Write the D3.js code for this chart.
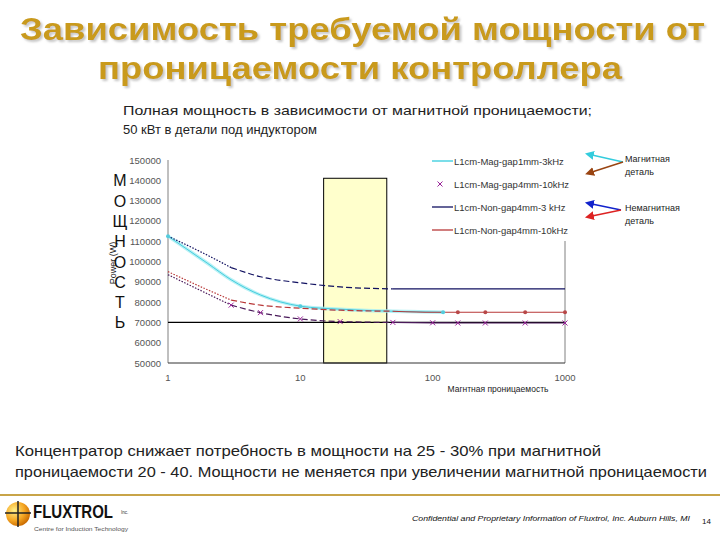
<!DOCTYPE html>
<html><head><meta charset="utf-8">
<script src="https://cdn.jsdelivr.net/npm/d3@7/dist/d3.min.js"></script>
<style>
html,body{margin:0;padding:0;background:#fff;}
svg{display:block;font-family:"Liberation Sans",Arial,sans-serif;}
</style></head>
<body>
<svg id="c" width="720" height="540"></svg>
<script>
// ---- data ----
const yTicks = [50000,60000,70000,80000,90000,100000,110000,120000,130000,140000,150000];
const xTicks = [1,10,100,1000];
const verticalLetters = ["М","О","Щ","Н","О","С","Т","Ь"];
const letterRows = [140000,130000,120000,110000,100000,90000,80000,70000];

const seriesNames = ["L1cm-Mag-gap1mm-3kHz","L1cm-Mag-gap4mm-10kHz","L1cm-Non-gap4mm-3 kHz","L1cm-Non-gap4mm-10kHz"];

const muCyan  = [1,2,3,5,10,20,50,120];
const valCyan = [112500,99000,91000,83500,78000,76500,75500,75000];

const muPurple  = [1,2,3,5,10,20,50,100,155,250,500,1000];
const valPurple = [93500,84000,78500,74800,71700,70400,70000,69800,69700,69700,69700,69700];

const muNavy  = [1,2,3,5,10,20,50,100,200,500,1000];
const valNavy = [112500,103000,97000,92500,89500,87500,86500,86500,86500,86500,86500];

const muRed  = [1,2,3,5,10,20,50,100,155,250,500,1000];
const valRed = [95000,86000,81000,78500,77000,76000,75500,75000,75000,75000,75000,75000];

const bandMu = [15,45];      // highlighted permeability range
const bandTop = 141000;
const refLine = 70000;

const title1 = "Зависимость требуемой мощности от";
const title2 = "проницаемости контроллера";
const sub1 = "Полная мощность в зависимости от магнитной проницаемости;";
const sub2 = "50 кВт в детали под индуктором";
const note1 = "Концентратор снижает потребность в мощности на 25 - 30% при  магнитной";
const note2 = "проницаемости 20 - 40. Мощности не меняется при увеличении магнитной проницаемости";
const xLabel = "Магнтная проницаемость";
const yLabel = "Power (W)";
const footer = "Confidential and Proprietary Information of Fluxtrol, Inc. Auburn Hills, MI";
const pageNo = "14";

// ---- drawing ----
const svg = d3.select("#c");
const x = d3.scaleLog().domain([1,1000]).range([168,565]);
const y = d3.scaleLinear().domain([50000,150000]).range([363,160]);

const defs = svg.append("defs");
const rg = defs.append("radialGradient").attr("id","lg").attr("cx","35%").attr("cy","35%").attr("r","70%");
rg.append("stop").attr("offset","0%").attr("stop-color","#FFF08A");
rg.append("stop").attr("offset","60%").attr("stop-color","#F5A623");
rg.append("stop").attr("offset","100%").attr("stop-color","#C96A00");
const sh = defs.append("filter").attr("id","shadow").attr("x","-5%").attr("y","-20%").attr("width","110%").attr("height","150%");
sh.append("feDropShadow").attr("dx",2).attr("dy",2).attr("stdDeviation",0.8).attr("flood-color","#999").attr("flood-opacity",0.55);
function marker(id,color){
  defs.append("marker").attr("id",id).attr("viewBox","0 0 10 10").attr("refX",2).attr("refY",5)
   .attr("markerWidth",6).attr("markerHeight",6).attr("orient","auto-start-reverse")
   .append("path").attr("d","M0,0L10,5L0,10z").attr("fill",color);
}
marker("aC","#33CCDD"); marker("aB","#994411"); marker("aN","#1122CC"); marker("aR","#DD2222");

// Title with shadow
[[title1,40,20,685],[title2,79,98,524]].forEach(([t,yy,x0,w])=>{
  svg.append("text").attr("x",x0).attr("y",yy).attr("textLength",w).attr("lengthAdjust","spacingAndGlyphs")
    .attr("font-size",31).attr("font-weight","bold").attr("fill","#C99A1E").attr("filter","url(#shadow)").text(t);
});

// Subtitle
svg.append("text").attr("x",123).attr("y",115).attr("font-size",13).attr("fill","#222")
  .attr("textLength",469).attr("lengthAdjust","spacingAndGlyphs").text(sub1);
svg.append("text").attr("x",123).attr("y",134).attr("font-size",13).attr("fill","#222").text(sub2);

// Highlight band
svg.append("rect").attr("x",x(bandMu[0])).attr("y",y(bandTop))
  .attr("width",x(bandMu[1])-x(bandMu[0])).attr("height",y(50000)-y(bandTop))
  .attr("fill","#FFFFCC").attr("stroke","#000").attr("stroke-width",1);

// Axes lines
svg.append("line").attr("x1",x(1)).attr("x2",x(1)).attr("y1",y(150000)).attr("y2",y(50000)).attr("stroke","#808080");
svg.append("line").attr("x1",x(1000)).attr("x2",x(1000)).attr("y1",y(150000)).attr("y2",y(50000)).attr("stroke","#808080");
svg.append("line").attr("x1",x(1)).attr("x2",x(1000)).attr("y1",y(50000)).attr("y2",y(50000)).attr("stroke","#333");
svg.append("line").attr("x1",x(1)).attr("x2",x(1000)).attr("y1",y(refLine)).attr("y2",y(refLine)).attr("stroke","#000").attr("stroke-width",1.2);

// tick labels
svg.append("g").selectAll("text").data(yTicks).join("text")
  .attr("x",161).attr("y",d=>y(d)+3.5).attr("text-anchor","end").attr("font-size",9.5).attr("fill","#555").text(d=>d);
svg.append("g").selectAll("text").data(xTicks).join("text")
  .attr("x",d=>x(d)).attr("y",381).attr("text-anchor","middle").attr("font-size",9.5).attr("fill","#555").text(d=>d);
svg.append("text").attr("x",498).attr("y",392).attr("text-anchor","middle").attr("font-size",8.5).attr("fill","#222").text(xLabel);

// y label
svg.append("text").attr("transform","translate(116,263) rotate(-90)").attr("text-anchor","middle")
  .attr("font-size",9).attr("fill","#222").text(yLabel);
// vertical big letters
svg.append("g").selectAll("text").data(verticalLetters).join("text")
  .attr("x",120).attr("y",(d,i)=>y(letterRows[i])+6).attr("text-anchor","middle")
  .attr("font-size",16).attr("fill","#111").text(d=>d);

// series (drawn in pieces: fine dots near mu=1, dashes in the middle, solid at high mu)
const line = d3.line().x(d=>x(d[0])).y(d=>y(d[1])).curve(d3.curveMonotoneX);
const zip = (a,b)=>a.map((v,i)=>[v,b[i]]);
const dCyan = zip(muCyan,valCyan), dPurple = zip(muPurple,valPurple), dNavy = zip(muNavy,valNavy), dRed = zip(muRed,valRed);

function drawSeries(data,color,w){
  const parts = [[d=>d[0]<=3,"1.5,1.5"],[d=>d[0]>=3&&d[0]<=50,"6,3"],[d=>d[0]>=50,null]];
  parts.forEach(([f,dash])=>{
    const sub = data.filter(f);
    if(sub.length<2) return;
    const p = svg.append("path").attr("d",line(sub)).attr("fill","none").attr("stroke",color).attr("stroke-width",w);
    if(dash) p.attr("stroke-dasharray",dash);
  });
}
svg.append("path").attr("d",line(dCyan)).attr("fill","none").attr("stroke","#A5EEF2").attr("stroke-width",3.5).attr("opacity",0.8);
svg.append("path").attr("d",line(dCyan)).attr("fill","none").attr("stroke","#44CCDD").attr("stroke-width",1);
drawSeries(dNavy,"#101060",1.2);
drawSeries(dRed,"#B83838",1.2);
drawSeries(dPurple,"#4A1A5A",1.2);

// markers
svg.append("g").selectAll("path").data(dPurple.filter(d=>d[0]>=3)).join("path")
  .attr("d",d=>{const cx=x(d[0]),cy=y(d[1]);return `M${cx-2.5},${cy-2.5}L${cx+2.5},${cy+2.5}M${cx-2.5},${cy+2.5}L${cx+2.5},${cy-2.5}`;})
  .attr("stroke","#992299").attr("stroke-width",1);
svg.append("g").selectAll("circle").data(dRed.filter(d=>d[0]>=155)).join("circle")
  .attr("cx",d=>x(d[0])).attr("cy",d=>y(d[1])).attr("r",2).attr("fill","#B84848");
svg.append("g").selectAll("circle").data(dCyan.filter(d=>d[0]==1||d[0]==10||d[0]==120)).join("circle")
  .attr("cx",d=>x(d[0])).attr("cy",d=>y(d[1])).attr("r",2).attr("fill","#55CCDD");

// legend
const lg = svg.append("g");
lg.append("rect").attr("x",428).attr("y",148).attr("width",150).attr("height",93).attr("fill","#fff");
const ly = [161,184,207,230];
const lcol = ["#33CCDD","#992299","#101060","#B83838"];
seriesNames.forEach((n,i)=>{
  if(i===1){
    lg.append("path").attr("d",`M437.5,${ly[i]-2.5}l5,5M437.5,${ly[i]+2.5}l5,-5`).attr("stroke",lcol[i]).attr("stroke-width",1);
  } else {
    lg.append("line").attr("x1",432).attr("x2",453).attr("y1",ly[i]).attr("y2",ly[i]).attr("stroke",lcol[i]).attr("stroke-width",1.3);
  }
  lg.append("text").attr("x",454).attr("y",ly[i]+3.5).attr("font-size",9.5).attr("fill","#333").text(n);
});

// annotations
function arrow(x1,y1,x2,y2,c,m){svg.append("line").attr("x1",x1).attr("y1",y1).attr("x2",x2).attr("y2",y2)
  .attr("stroke",c).attr("stroke-width",1.5).attr("marker-end",`url(#${m})`);}
arrow(623,162,592,155,"#33CCDD","aC");
arrow(623,162,592,172,"#994411","aB");
arrow(621,210,592,204,"#1122CC","aN");
arrow(621,210,592,216,"#DD2222","aR");
[["Магнитная",162],["деталь",175],["Немагнитная",211],["деталь",224]].forEach(([t,yy])=>{
  svg.append("text").attr("x",625).attr("y",yy).attr("font-size",9).attr("fill","#222").text(t);
});

// bottom note
svg.append("text").attr("x",15).attr("y",456).attr("font-size",14.5).attr("fill","#222")
  .attr("textLength",586).attr("lengthAdjust","spacingAndGlyphs").text(note1);
svg.append("text").attr("x",15).attr("y",477).attr("font-size",14.5).attr("fill","#222")
  .attr("textLength",692).attr("lengthAdjust","spacingAndGlyphs").text(note2);

// footer
svg.append("line").attr("x1",0).attr("x2",720).attr("y1",495).attr("y2",495).attr("stroke","#C8A448").attr("stroke-width",2);
svg.append("circle").attr("cx",18).attr("cy",514).attr("r",12).attr("fill","url(#lg)");
svg.append("line").attr("x1",18).attr("x2",18).attr("y1",501).attr("y2",527).attr("stroke","#222").attr("stroke-width",1.5);
svg.append("line").attr("x1",5).attr("x2",31).attr("y1",513).attr("y2",513).attr("stroke","#222").attr("stroke-width",1.5);
svg.append("text").attr("transform","translate(33,518) scale(1,1.27)").attr("font-size",15).attr("font-weight","bold")
  .attr("textLength",80).attr("lengthAdjust","spacingAndGlyphs").attr("fill","#111").text("FLUXTROL");
svg.append("text").attr("x",121).attr("y",514).attr("font-size",4.5).attr("fill","#333").text("Inc.");
svg.append("text").attr("x",34).attr("y",531).attr("font-size",5.5).attr("fill","#555")
  .attr("textLength",94).attr("lengthAdjust","spacingAndGlyphs").text("Centre for Induction Technology");
svg.append("text").attr("x",412).attr("y",521).attr("font-size",8).attr("font-style","italic").attr("fill","#111")
  .attr("textLength",278).attr("lengthAdjust","spacingAndGlyphs").text(footer);
svg.append("text").attr("x",702).attr("y",524).attr("font-size",8).attr("fill","#111").text(pageNo);
</script>
</body></html>
